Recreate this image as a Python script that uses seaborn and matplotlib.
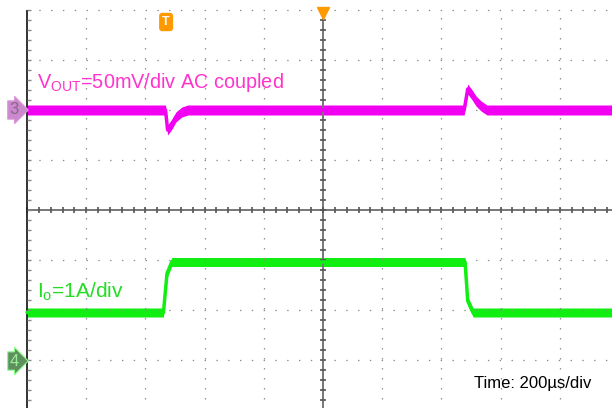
import numpy as np
import matplotlib.pyplot as plt
import seaborn as sns

# scope capture: time in µs (200 µs/div, trigger at centre)
t_vout = [-1000, -532, -525, -510, -497, -477, -456, 477, 489, 504, 517, 534, 554, 1000]
vout_mv = [0, 0, -20, -14, -7, -2, 0, 0, 21, 15, 9, 4, 0, 0]   # AC coupled
t_io = [-1000, -539, -527, -511, 480, 489, 507, 1000]
io_a = [0.97, 0.97, 1.75, 1.98, 1.98, 1.2, 0.97, 0.97]

time_per_div = 200
vout_per_div = 50
io_per_div = 1
ch3_offset = 2.0     # divisions
ch4_offset = -3.02
trigger_t = -530

sns.set_style("white")
plt.rcParams['font.family'] = ['Liberation Sans', 'DejaVu Sans']
plt.rcParams['mathtext.fontset'] = 'custom'
plt.rcParams['mathtext.rm'] = 'Liberation Sans'
plt.rcParams['lines.scale_dashes'] = False

fig = plt.figure(figsize=(6.12, 4.08), dpi=100)
ax = fig.add_axes([0, 0, 1, 1])
ax.set_xlim(-323 / 59.2, (612 - 323) / 59.2)
ax.set_ylim(-198 / 50, 210 / 50)
ax.axis('off')

# graticule
grid_c = '#8a8a8a'
ax.vlines(np.arange(-4, 6), -4, 4, colors=grid_c, lw=0.9, linestyles=[(0, (1.0, 6.2))])
ax.hlines(np.arange(-3, 5), -5, 5, colors=grid_c, lw=0.9, linestyles=[(0, (1.0, 7.5))])
ax.vlines(0, -4, 4, colors='#777777', lw=1.4)
ax.hlines(0, -5, 5, colors='#777777', lw=1.4)
ax.plot(np.zeros(41), np.arange(-4, 4.01, 0.2), ls='none', marker='_', ms=5, mew=1.2, color='#555555')
ax.plot(np.arange(-5, 5.01, 0.2), np.zeros(51), ls='none', marker='|', ms=5, mew=1.2, color='#555555')
ax.vlines(-5, -4, 4, colors='#222222', lw=1.3)
ax.plot(np.full(41, -4.97), np.arange(-4, 4.01, 0.2), ls='none', marker='_', ms=3, mew=1, color='#888888')

# traces
tv = np.array(t_vout) / time_per_div
yv = ch3_offset + np.array(vout_mv) / vout_per_div
ti = np.array(t_io) / time_per_div
yi = ch4_offset + np.array(io_a) / io_per_div

ax.fill_between(tv, yv - 0.1, yv + 0.1, color='#f200f2', lw=0)
sns.lineplot(x=tv, y=yv, ax=ax, color='#f200f2', lw=2.5, estimator=None)
ax.fill_between(ti, yi - 0.09, yi + 0.09, color='#11ee11', lw=0)
sns.lineplot(x=ti, y=yi, ax=ax, color='#11ee11', lw=2.5, estimator=None)

# labels
ax.text(-4.83, 2.44, r"V$\mathregular{_{OUT}}$=50mV/div AC coupled", color='#ff33cc',
        fontsize=14.3, va='baseline', ha='left')
ax.text(-4.83, -1.76, r"I$\mathregular{_{o}}$=1A/div", color='#22dd22',
        fontsize=15, va='baseline', ha='left')
ax.text(2.55, -3.56, "Time: 200µs/div", color='black', fontsize=12, va='baseline', ha='left')

# channel markers and trigger
ax.text(-5.22, ch3_offset, "3", color='#886688', fontsize=12, ha='center', va='center',
        bbox=dict(boxstyle='rarrow,pad=0.1', fc='#cc88cc', ec='#dd99dd', lw=0.8))
ax.text(-5.22, ch4_offset, "4", color='#99ee99', fontsize=12, ha='center', va='center',
        bbox=dict(boxstyle='rarrow,pad=0.1', fc='#5f8f5f', ec='#88ff88', lw=0.8))
ax.text(trigger_t / time_per_div, 3.76, "T", color='white', fontsize=9, fontweight='bold',
        ha='center', va='center',
        bbox=dict(boxstyle='round,pad=0.2', fc='#ff9900', ec='#ff9900'))
ax.plot([0], [3.95], marker='v', ms=8, color='#ff9900', clip_on=False)

fig.savefig('out.png', dpi=100)
